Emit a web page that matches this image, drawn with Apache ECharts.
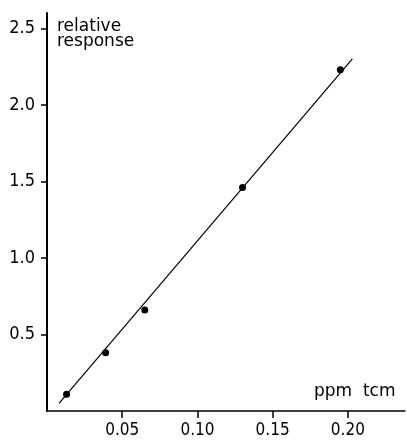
<!DOCTYPE html>
<html>
<head>
<meta charset="utf-8">
<script src="https://cdn.jsdelivr.net/npm/echarts@6/dist/echarts.min.js"></script>
<style>
  html, body { margin: 0; padding: 0; background: #fff; }
  #chart { width: 407px; height: 440px; }
</style>
</head>
<body>
<div id="chart"></div>
<script>
// measured points
const concentration = [0.013, 0.039, 0.065, 0.13, 0.195]
const response = [0.11, 0.38, 0.66, 1.46, 2.23]
// calibration line, end points
const fitX = [0.008, 0.203]
const fitY = [0.05, 2.30]
// tick labels
const xTicks = [0.05, 0.10, 0.15, 0.20]
const yTicks = [0.5, 1.0, 1.5, 2.0, 2.5]

const font = 'DejaVu Sans Condensed'

const myChart = echarts.init(document.getElementById('chart'))
myChart.setOption({
  animation: false,
  backgroundColor: '#fff',
  grid: {
    left: 47,
    right: 2,
    top: 13,
    bottom: 29
  },
  xAxis: {
    type: 'value',
    min: 0,
    max: 0.238,
    splitLine: { show: false },
    axisLine: { lineStyle: { color: '#000', width: 1.5 } },
    axisTick: {
      customValues: xTicks,
      length: 7,
      lineStyle: { color: '#000', width: 1.5 }
    },
    axisLabel: {
      customValues: xTicks,
      margin: 11,
      color: '#000',
      fontFamily: font,
      fontSize: 17,
      formatter: v => v.toFixed(2)
    }
  },
  yAxis: {
    type: 'value',
    min: 0,
    max: 2.6,
    splitLine: { show: false },
    axisLine: { lineStyle: { color: '#000', width: 2 } },
    axisTick: {
      customValues: yTicks,
      length: 6,
      lineStyle: { color: '#000', width: 1.5 }
    },
    axisLabel: {
      customValues: yTicks,
      margin: 12,
      color: '#000',
      fontFamily: font,
      fontSize: 18,
      formatter: v => v.toFixed(1)
    }
  },
  graphic: [
    {
      type: 'text',
      left: 57,
      top: 18,
      style: {
        text: 'relative\nresponse',
        font: '17px "DejaVu Sans"',
        fill: '#000',
        lineHeight: 15
      }
    },
    {
      type: 'text',
      left: 314,
      top: 383,
      style: {
        text: 'ppm  tcm',
        font: '17px "DejaVu Sans"',
        fill: '#000'
      }
    }
  ],
  series: [
    {
      type: 'line',
      data: fitX.map((x, i) => [x, fitY[i]]),
      showSymbol: false,
      lineStyle: { color: '#000', width: 1.2 },
      silent: true
    },
    {
      type: 'scatter',
      data: concentration.map((x, i) => [x, response[i]]),
      symbolSize: 7,
      itemStyle: { color: '#000', opacity: 1 }
    }
  ]
})
</script>
</body>
</html>
